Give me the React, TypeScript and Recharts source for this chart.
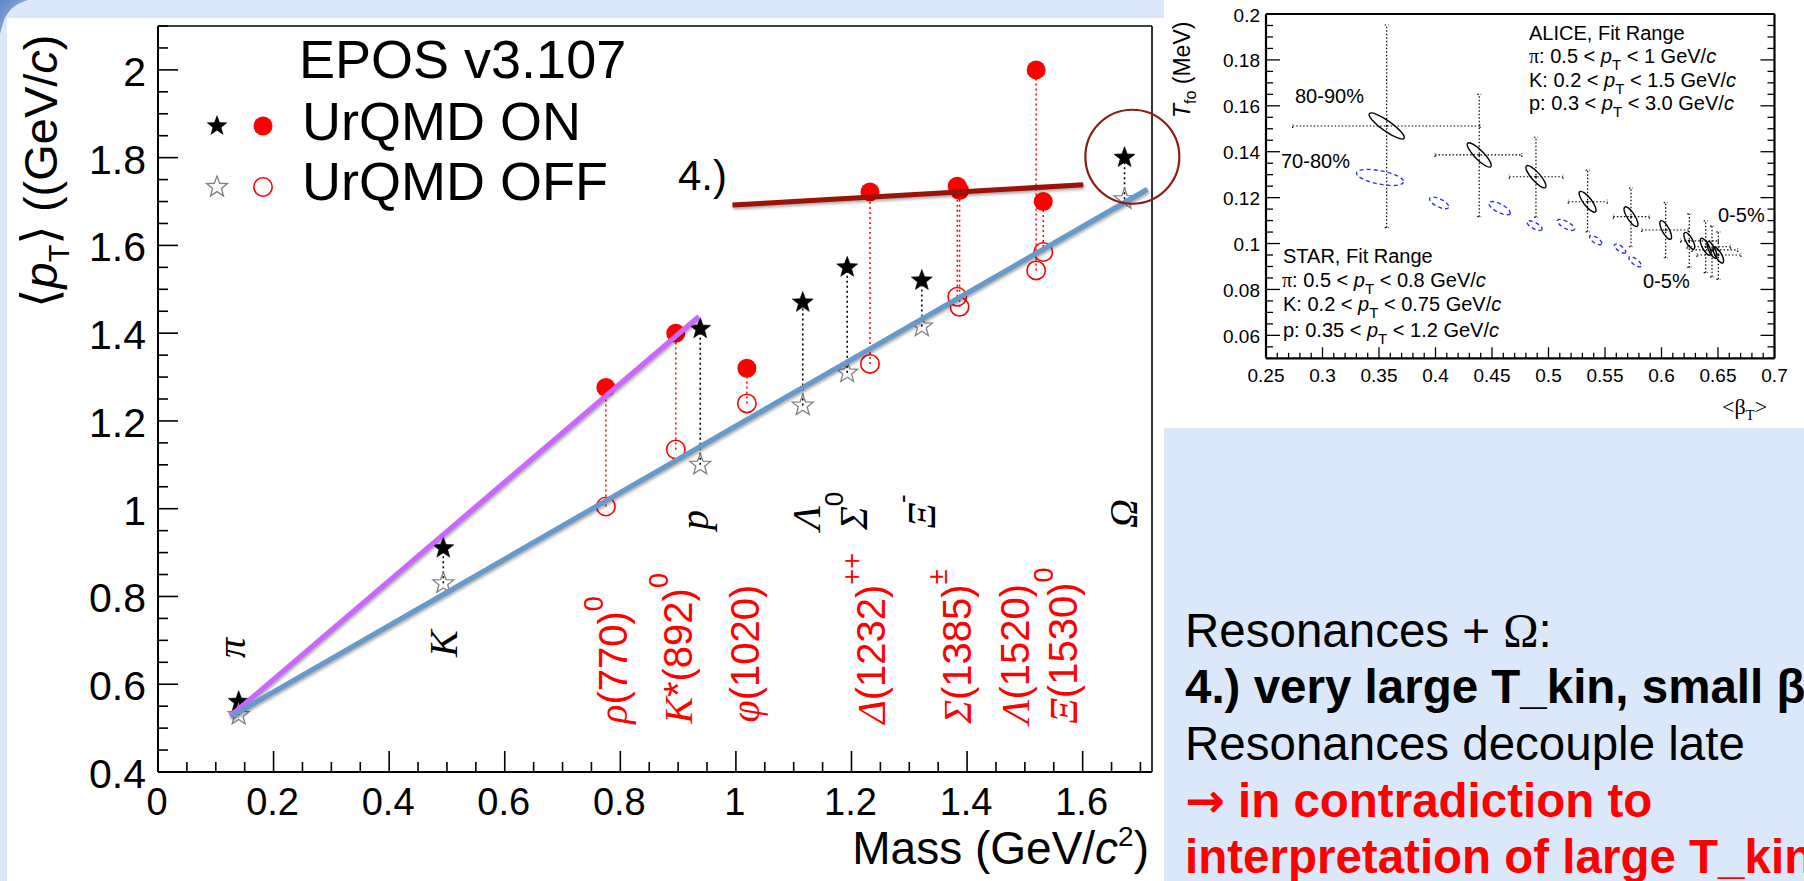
import React from 'react';
import { ScatterChart, Scatter, XAxis, YAxis, ErrorBar, ReferenceDot } from 'recharts';

const SANS = "'Liberation Sans', Arial, Helvetica, sans-serif";
const SERIF = "'Liberation Serif', 'Times New Roman', serif";

// ================= main chart data =================
const hadronNames = ['π', 'K', 'p', 'Λ', 'Σ0', 'Ξ-', 'Ω'];
const hadronMass = [0.1396, 0.4937, 0.9383, 1.1157, 1.1926, 1.3217, 1.6725];
const hadronOn = [0.56, 0.91, 1.41, 1.47, 1.55, 1.52, 1.8];
const hadronOff = [0.53, 0.83, 1.1, 1.235, 1.31, 1.415, 1.705];

const resonanceNames = ['ρ(770)0', 'K*(892)0', 'φ(1020)', 'Δ(1232)++', 'Σ(1385)+', 'Σ(1385)-', 'Λ(1520)', 'Ξ(1530)0'];
const resonanceMass = [0.775, 0.896, 1.019, 1.232, 1.383, 1.387, 1.5195, 1.5318];
const resonanceOn = [1.276, 1.4, 1.32, 1.722, 1.735, 1.725, 2.0, 1.7];
const resonanceOff = [1.005, 1.135, 1.24, 1.33, 1.483, 1.46, 1.543, 1.585];

// straight-line fits drawn on the slide
const mesonFitX = [0.125, 0.936];
const mesonFitY = [0.527, 1.438];
const baryonFitX = [0.128, 1.712];
const baryonFitY = [0.528, 1.728];
const resonanceFitX = [0.994, 1.601];
const resonanceFitY = [1.692, 1.738];

const omegaHighlight = { x: 1.686, y: 1.802 };

// particle labels (rotated), anchored in data coordinates
const hadronLabelText = ['π', 'K', 'p', 'Λ', 'Σ', 'Ξ', 'Ω'];
const hadronLabelSup = ['', '', '', '', '0', '-', ''];
const hadronLabelX = [0.1356, 0.4946, 0.9426, 1.1227, 1.2048, 1.3225, 1.6716];
const hadronLabelY = [0.66, 0.662, 0.9516, 0.9516, 0.9516, 0.955, 0.956];

const resonanceLabelGreek = ['ρ', 'K', 'φ', 'Δ', 'Σ', 'Λ', 'Ξ'];
const resonanceLabelBody = ['(770)', '*(892)', '(1020)', '(1232)', '(1385)', '(1520)', '(1530)'];
const resonanceLabelSup = ['0', '0', '', '++', '±', '', '0'];
const resonanceLabelX = [0.7863, 0.8995, 1.0156, 1.2339, 1.3822, 1.483, 1.5647];
const resonanceLabelY = [0.51, 0.51, 0.513, 0.51, 0.51, 0.51, 0.51];

const mainXMajor = [0, 0.2, 0.4, 0.6, 0.8, 1.0, 1.2, 1.4, 1.6];
const mainXLabels = ['0', '0.2', '0.4', '0.6', '0.8', '1', '1.2', '1.4', '1.6'];
const mainYMajor = [0.4, 0.6, 0.8, 1.0, 1.2, 1.4, 1.6, 1.8, 2.0];
const mainYLabels = ['0.4', '0.6', '0.8', '1', '1.2', '1.4', '1.6', '1.8', '2'];

// ================= inset (T_fo vs <beta_T>) data =================
const aliceBeta = [0.3568, 0.4387, 0.4889, 0.5346, 0.573, 0.6037, 0.6246, 0.6391, 0.6447, 0.6503];
const aliceT = [0.1512, 0.1386, 0.1291, 0.1182, 0.1117, 0.1059, 0.1012, 0.0986, 0.0972, 0.095];
const aliceBetaLow = [0.2736, 0.3996, 0.4653, 0.5175, 0.5574, 0.5825, 0.617, 0.6226, 0.627, 0.6314];
const aliceBetaHigh = [0.4394, 0.4763, 0.5128, 0.552, 0.5892, 0.6237, 0.6503, 0.6611, 0.6674, 0.6703];
const aliceTLow = [0.1069, 0.1117, 0.1114, 0.1051, 0.0986, 0.0938, 0.0896, 0.0873, 0.0855, 0.0844];
const aliceTHigh = [0.1952, 0.165, 0.1463, 0.132, 0.1241, 0.1178, 0.1129, 0.1099, 0.1076, 0.1051];
// contour major half-axis (in data units) and minor/major ratio
const aliceAxisBeta = [0.01535, 0.0102, 0.0084, 0.0069, 0.0055, 0.0044, 0.0041, 0.004, 0.0035, 0.004];
const aliceAxisT = [-0.00538, -0.0051, -0.0047, -0.0044, -0.0042, -0.004, -0.0036, -0.0036, -0.0036, -0.0034];
const aliceAxisRatio = [0.24, 0.28, 0.3, 0.32, 0.33, 0.34, 0.35, 0.35, 0.35, 0.35];

const starBeta = [0.3509, 0.4032, 0.4567, 0.4877, 0.5155, 0.5417, 0.5633, 0.5766];
const starT = [0.1288, 0.1177, 0.1154, 0.1078, 0.1081, 0.1015, 0.0978, 0.0921];
const starAxisBeta = [0.0208, 0.0084, 0.0093, 0.0066, 0.0075, 0.0053, 0.0049, 0.0053];
const starAxisT = [-0.002, -0.002, -0.0024, -0.0017, -0.002, -0.0017, -0.0017, -0.002];
const starAxisRatio = [0.28, 0.38, 0.36, 0.38, 0.36, 0.4, 0.4, 0.38];

const insetXMajor = [0.25, 0.3, 0.35, 0.4, 0.45, 0.5, 0.55, 0.6, 0.65, 0.7];
const insetXLabels = ['0.25', '0.3', '0.35', '0.4', '0.45', '0.5', '0.55', '0.6', '0.65', '0.7'];
const insetYMajor = [0.06, 0.08, 0.1, 0.12, 0.14, 0.16, 0.18, 0.2];
const insetYLabels = ['0.06', '0.08', '0.1', '0.12', '0.14', '0.16', '0.18', '0.2'];

// ================= helpers =================
const near = (a: number, b: number) => Math.abs(a - b) < 1e-6;
const makeTicks = (start: number, end: number, step: number) => {
  const out: number[] = [];
  const n = Math.round((end - start) / step);
  for (let i = 0; i <= n; i++) out.push(+(start + i * step).toFixed(4));
  return out;
};
const mainXTicks = makeTicks(0, 1.7, 0.05);
const mainYTicks = makeTicks(0.4, 2.1, 0.05);
const insetXTicks = makeTicks(0.25, 0.7, 0.01);
const insetYTicks = makeTicks(0.05, 0.2, 0.005);

const hadronOnData = hadronMass.map((x, i) => ({ name: hadronNames[i], x, y: hadronOn[i], err: [hadronOn[i] - hadronOff[i], 0] }));
const hadronOffData = hadronMass.map((x, i) => ({ name: hadronNames[i], x, y: hadronOff[i] }));
const resOnData = resonanceMass.map((x, i) => ({ name: resonanceNames[i], x, y: resonanceOn[i], err: [resonanceOn[i] - resonanceOff[i], 0] }));
const resOffData = resonanceMass.map((x, i) => ({ name: resonanceNames[i], x, y: resonanceOff[i] }));
const mesonFit = mesonFitX.map((x, i) => ({ x, y: mesonFitY[i] }));
const baryonFit = baryonFitX.map((x, i) => ({ x, y: baryonFitY[i] }));
const resonanceFit = resonanceFitX.map((x, i) => ({ x, y: resonanceFitY[i] }));
const hadronLabels = hadronLabelText.map((t, i) => ({ x: hadronLabelX[i], y: hadronLabelY[i], t, sup: hadronLabelSup[i] }));
const resonanceLabels = resonanceLabelGreek.map((g, i) => ({ x: resonanceLabelX[i], y: resonanceLabelY[i], g, body: resonanceLabelBody[i], sup: resonanceLabelSup[i] }));

const aliceData = aliceBeta.map((x, i) => ({
  x, y: aliceT[i],
  ex: [x - aliceBetaLow[i], aliceBetaHigh[i] - x],
  ey: [aliceT[i] - aliceTLow[i], aliceTHigh[i] - aliceT[i]],
  da: aliceAxisBeta[i], dt: aliceAxisT[i], ratio: aliceAxisRatio[i],
}));
const starData = starBeta.map((x, i) => ({ x, y: starT[i], da: starAxisBeta[i], dt: starAxisT[i], ratio: starAxisRatio[i] }));

// ================= geometry =================
const MAIN_W = 1200, MAIN_H = 881;
// axes have a 1px band, so the plot area is x 158..1152, y 26..772
const MAIN_M = { top: 25, right: 47, bottom: 108, left: 157 };
const INSET_LEFT = 1164, INSET_W = 640, INSET_H = 428;
const INSET_M = { top: 13, right: 28.5, bottom: 68.7, left: 101 };
const INSET_PW = INSET_W - INSET_M.left - INSET_M.right - 2;
const INSET_PH = INSET_H - INSET_M.top - INSET_M.bottom - 2;
const KX = INSET_PW / 0.45;
const KY = INSET_PH / 0.15;

// ================= shapes =================
const starPoints = (cx: number, cy: number, r: number) => {
  const pts: string[] = [];
  for (let i = 0; i < 10; i++) {
    const rad = i % 2 === 0 ? r : r * 0.42;
    const a = -Math.PI / 2 + (i * Math.PI) / 5;
    pts.push(`${(cx + rad * Math.cos(a)).toFixed(2)},${(cy + rad * Math.sin(a)).toFixed(2)}`);
  }
  return pts.join(' ');
};
const FilledStar = ({ cx, cy }: any) => <polygon points={starPoints(cx, cy, 11)} fill="#000" stroke="#000" strokeWidth={0.6} />;
const OpenStar = ({ cx, cy }: any) => <polygon points={starPoints(cx, cy, 11)} fill="none" stroke="#808080" strokeWidth={1.3} />;
const FilledDot = ({ cx, cy }: any) => <circle cx={cx} cy={cy} r={9.5} fill="#ff0000" />;
const OpenDot = ({ cx, cy }: any) => <circle cx={cx} cy={cy} r={9.2} fill="none" stroke="#ff0000" strokeWidth={1.6} />;
const NoShape = () => <g />;

const HadronLabel = ({ cx, cy, payload }: any) => {
  const fs = 40;
  const off = payload.t === 'p' ? 0.12 * fs : payload.t === 'π' ? 0.22 * fs : 0.33 * fs;
  const bx = cx + off;
  return (
    <text transform={`rotate(-90 ${bx} ${cy})`} x={bx} y={cy} fontFamily={SERIF} fontStyle="italic" fontSize={fs} fill="#000">
      {payload.t}
      {payload.sup ? <tspan fontFamily={SANS} fontStyle="normal" fontSize={26} dy={-24}>{payload.sup}</tspan> : null}
    </text>
  );
};

const ResonanceLabel = ({ cx, cy, payload }: any) => {
  const fs = 40;
  const bx = cx + 0.358 * fs;
  return (
    <text transform={`rotate(-90 ${bx} ${cy})`} x={bx} y={cy} fontFamily={SANS} fontSize={fs} fill="#ff0000">
      <tspan fontFamily={SERIF} fontStyle="italic">{payload.g}</tspan>
      <tspan>{payload.body}</tspan>
      {payload.sup ? <tspan fontSize={27} dy={-24}>{payload.sup}</tspan> : null}
    </text>
  );
};

const makeEllipse = (stroke: string, dash?: string, dot?: boolean) => (props: any) => {
  const { cx, cy, payload } = props;
  const vx = payload.da * KX;
  const vy = -payload.dt * KY;
  const a = Math.hypot(vx, vy);
  const ang = (Math.atan2(vy, vx) * 180) / Math.PI;
  const b = a * payload.ratio;
  return (
    <g>
      <ellipse cx={cx} cy={cy} rx={a} ry={b} transform={`rotate(${ang} ${cx} ${cy})`} fill="none" stroke={stroke} strokeWidth={1.4} strokeDasharray={dash} />
      {dot ? <circle cx={cx} cy={cy} r={1} fill="#000" /> : null}
    </g>
  );
};
const AliceEllipse = makeEllipse('#000', undefined, true);
const StarEllipse = makeEllipse('#2b35e6', '4 3');

// ================= ticks =================
const MainXTick = (props: any) => {
  const { x, y, payload } = props;
  const idx = mainXMajor.findIndex((v) => near(v, payload.value));
  const major = idx >= 0;
  return (
    <g>
      <line x1={x} y1={y} x2={x} y2={y - (major ? 21 : 10)} stroke="#000" strokeWidth={1.6} />
      {major ? (
        <text x={x - 1} y={y + 43} textAnchor="middle" fontFamily={SANS} fontSize={38} fill="#000">{mainXLabels[idx]}</text>
      ) : null}
    </g>
  );
};
const MainYTick = (props: any) => {
  const { x, y, payload } = props;
  const idx = mainYMajor.findIndex((v) => near(v, payload.value));
  const major = idx >= 0;
  return (
    <g>
      <line x1={x} y1={y} x2={x + (major ? 20 : 10)} y2={y} stroke="#000" strokeWidth={1.6} />
      {major ? (
        <text x={x - 12} y={y + 16} textAnchor="end" fontFamily={SANS} fontSize={41} fill="#000">{mainYLabels[idx]}</text>
      ) : null}
    </g>
  );
};
const InsetBottomTick = (props: any) => {
  const { x, y, payload } = props;
  const idx = insetXMajor.findIndex((v) => near(v, payload.value));
  const major = idx >= 0;
  return (
    <g>
      <line x1={x} y1={y} x2={x} y2={y - (major ? 11 : 5.5)} stroke="#000" strokeWidth={1.3} />
      {major ? (
        <text x={x} y={y + 23.5} textAnchor="middle" fontFamily={SANS} fontSize={19} fill="#000">{insetXLabels[idx]}</text>
      ) : null}
    </g>
  );
};
const InsetTopTick = (props: any) => {
  const { x, y, payload } = props;
  const major = insetXMajor.some((v) => near(v, payload.value));
  return <line x1={x} y1={y} x2={x} y2={y + (major ? 11 : 5.5)} stroke="#000" strokeWidth={1.3} />;
};
const InsetLeftTick = (props: any) => {
  const { x, y, payload } = props;
  const idx = insetYMajor.findIndex((v) => near(v, payload.value));
  const major = idx >= 0;
  return (
    <g>
      <line x1={x} y1={y} x2={x + (major ? 14 : 7)} y2={y} stroke="#000" strokeWidth={1.3} />
      {major ? (
        <text x={x - 6} y={y + 7.5} textAnchor="end" fontFamily={SANS} fontSize={19} fill="#000">{insetYLabels[idx]}</text>
      ) : null}
    </g>
  );
};
const InsetRightTick = (props: any) => {
  const { x, y, payload } = props;
  const major = insetYMajor.some((v) => near(v, payload.value));
  return <line x1={x} y1={y} x2={x - (major ? 14 : 7)} y2={y} stroke="#000" strokeWidth={1.3} />;
};

// ================= text helpers =================
const PT = ({ sub = 15, dy = 7 }: { sub?: number; dy?: number }) => (
  <>
    <tspan fontStyle="italic">p</tspan>
    <tspan fontSize={sub} dy={dy}>T</tspan>
    <tspan dy={-dy}> </tspan>
  </>
);

const MainChart = () => (
  <div style={{ position: 'absolute', left: 0, top: 0, width: MAIN_W, height: MAIN_H }}>
    <ScatterChart width={MAIN_W} height={MAIN_H} margin={MAIN_M}>
      <XAxis type="number" dataKey="x" domain={[0, 1.72]} ticks={mainXTicks} interval={0} allowDataOverflow
        height={1} tickSize={0} tickMargin={0} tickLine={false} axisLine={{ stroke: '#000', strokeWidth: 2 }} tick={<MainXTick />} />
      <XAxis xAxisId="top" orientation="top" type="number" domain={[0, 1.72]} allowDataOverflow
        height={1} tick={false} tickLine={false} axisLine={{ stroke: '#000', strokeWidth: 1.6 }} />
      <YAxis type="number" dataKey="y" domain={[0.4, 2.1]} ticks={mainYTicks} interval={0} allowDataOverflow
        width={1} tickSize={0} tickMargin={0} tickLine={false} axisLine={{ stroke: '#000', strokeWidth: 2 }} tick={<MainYTick />} />
      <YAxis yAxisId="right" orientation="right" type="number" domain={[0.4, 2.1]} allowDataOverflow
        width={1} tick={false} tickLine={false} axisLine={{ stroke: '#000', strokeWidth: 1.6 }} />

      <Scatter data={resOnData} shape={FilledDot} isAnimationActive={false}>
        <ErrorBar dataKey="err" direction="y" width={0} stroke="#ff0000" strokeWidth={1.5} strokeDasharray="2 3" />
      </Scatter>
      <Scatter data={resOffData} shape={OpenDot} isAnimationActive={false} />
      <Scatter data={hadronOnData} shape={FilledStar} isAnimationActive={false}>
        <ErrorBar dataKey="err" direction="y" width={0} stroke="#000" strokeWidth={1.6} strokeDasharray="2 3" />
      </Scatter>
      <Scatter data={hadronOffData} shape={OpenStar} isAnimationActive={false} />

      <Scatter data={mesonFit} shape={NoShape} isAnimationActive={false}
        line={{ stroke: '#cc66ff', strokeWidth: 5, style: { filter: 'drop-shadow(1px 2px 1.5px rgba(0,0,0,0.35))' } }} />
      <Scatter data={baryonFit} shape={NoShape} isAnimationActive={false}
        line={{ stroke: '#6699cc', strokeWidth: 5, style: { filter: 'drop-shadow(1px 2px 1.5px rgba(0,0,0,0.35))' } }} />
      <Scatter data={resonanceFit} shape={NoShape} isAnimationActive={false}
        line={{ stroke: '#9a1306', strokeWidth: 5, style: { filter: 'drop-shadow(1px 2px 1.5px rgba(0,0,0,0.35))' } }} />

      <Scatter data={hadronLabels} shape={HadronLabel} isAnimationActive={false} />
      <Scatter data={resonanceLabels} shape={ResonanceLabel} isAnimationActive={false} />

      <ReferenceDot x={omegaHighlight.x} y={omegaHighlight.y} r={47} fill="none" stroke="#8c1c13" strokeWidth={2.2} ifOverflow="visible" />
    </ScatterChart>
  </div>
);

const InsetChart = () => (
  <div style={{ position: 'absolute', left: INSET_LEFT, top: 0, width: INSET_W, height: INSET_H }}>
    <ScatterChart width={INSET_W} height={INSET_H} margin={INSET_M}>
      <XAxis type="number" dataKey="x" domain={[0.25, 0.7]} ticks={insetXTicks} interval={0} allowDataOverflow
        height={1} tickSize={0} tickMargin={0} tickLine={false} axisLine={{ stroke: '#000', strokeWidth: 2.2 }} tick={<InsetBottomTick />} />
      <XAxis xAxisId="top" orientation="top" type="number" domain={[0.25, 0.7]} ticks={insetXTicks} interval={0} allowDataOverflow
        height={1} tickSize={0} tickMargin={0} tickLine={false} axisLine={{ stroke: '#000', strokeWidth: 2.2 }} tick={<InsetTopTick />} />
      <YAxis type="number" dataKey="y" domain={[0.05, 0.2]} ticks={insetYTicks} interval={0} allowDataOverflow
        width={1} tickSize={0} tickMargin={0} tickLine={false} axisLine={{ stroke: '#000', strokeWidth: 2.2 }} tick={<InsetLeftTick />} />
      <YAxis yAxisId="right" orientation="right" type="number" domain={[0.05, 0.2]} ticks={insetYTicks} interval={0} allowDataOverflow
        width={1} tickSize={0} tickMargin={0} tickLine={false} axisLine={{ stroke: '#000', strokeWidth: 2.2 }} tick={<InsetRightTick />} />

      <Scatter data={starData} shape={StarEllipse} isAnimationActive={false} />
      <Scatter data={aliceData} shape={AliceEllipse} isAnimationActive={false}>
        <ErrorBar dataKey="ex" direction="x" width={2} stroke="#000" strokeWidth={1.2} strokeDasharray="1.5 2" />
        <ErrorBar dataKey="ey" direction="y" width={2} stroke="#000" strokeWidth={1.2} strokeDasharray="1.5 2" />
      </Scatter>
    </ScatterChart>
  </div>
);

const Overlay = () => (
  <svg width={1804} height={881} style={{ position: 'absolute', left: 0, top: 0, pointerEvents: 'none', overflow: 'hidden' }}>
    {/* main chart axis titles */}
    <text transform="rotate(-90)" x={-308} y={57} fontFamily={SANS} fontSize={47} fill="#000">
      <tspan fontFamily="'DejaVu Sans', sans-serif" fontSize={50}>⟨</tspan>
      <tspan fontStyle="italic">p</tspan>
      <tspan fontSize={29} dy={12}>T</tspan>
      <tspan fontFamily="'DejaVu Sans', sans-serif" fontSize={50} dy={-12}>⟩</tspan>
      <tspan> ((GeV/</tspan>
      <tspan fontStyle="italic">c</tspan>
      <tspan>)</tspan>
    </text>
    <text x={1149} y={864} textAnchor="end" fontFamily={SANS} fontSize={46} fill="#000">
      Mass (GeV/<tspan fontStyle="italic">c</tspan><tspan fontSize={28} dy={-18}>2</tspan><tspan dy={18}>)</tspan>
    </text>

    {/* legend */}
    <text x={299} y={78} fontFamily={SANS} fontSize={54} fill="#000">EPOS v3.107</text>
    <polygon points={starPoints(217, 126, 11)} fill="#000" />
    <circle cx={263} cy={126} r={9.5} fill="#ff0000" />
    <text x={302} y={140} fontFamily={SANS} fontSize={54} fill="#000">UrQMD ON</text>
    <polygon points={starPoints(217, 187, 11)} fill="none" stroke="#808080" strokeWidth={1.3} />
    <circle cx={263} cy={187} r={9.2} fill="none" stroke="#ff0000" strokeWidth={1.6} />
    <text x={302} y={200} fontFamily={SANS} fontSize={54} fill="#000">UrQMD OFF</text>

    <text x={678} y={190} fontFamily={SANS} fontSize={42} fill="#000">4.)</text>

    {/* inset titles */}
    <text transform="rotate(-90)" x={-118} y={1190} fontFamily={SANS} fontSize={23} fill="#000">
      <tspan fontStyle="italic">T</tspan>
      <tspan fontSize={16} dy={6}>fo</tspan>
      <tspan dy={-6}> (MeV)</tspan>
    </text>
    <text x={1722} y={414} fontFamily={SERIF} fontSize={22} fill="#000">
      {'<β'}<tspan fontSize={15} dy={6}>T</tspan><tspan dy={-6}>{'>'}</tspan>
    </text>

    <g fontFamily={SANS} fontSize={20} fill="#000">
      <text x={1529} y={40}>ALICE, Fit Range</text>
      <text x={1529} y={63}><tspan fontFamily={SERIF}>π</tspan>: 0.5 &lt; <PT /> &lt; 1 GeV/<tspan fontStyle="italic">c</tspan></text>
      <text x={1529} y={87}>K: 0.2 &lt; <PT /> &lt; 1.5 GeV/<tspan fontStyle="italic">c</tspan></text>
      <text x={1529} y={110}>p: 0.3 &lt; <PT /> &lt; 3.0 GeV/<tspan fontStyle="italic">c</tspan></text>

      <text x={1283} y={263}>STAR, Fit Range</text>
      <text x={1282} y={287}><tspan fontFamily={SERIF}>π</tspan>: 0.5 &lt; <PT /> &lt; 0.8 GeV/<tspan fontStyle="italic">c</tspan></text>
      <text x={1283} y={311}>K: 0.2 &lt; <PT /> &lt; 0.75 GeV/<tspan fontStyle="italic">c</tspan></text>
      <text x={1283} y={337}>p: 0.35 &lt; <PT /> &lt; 1.2 GeV/<tspan fontStyle="italic">c</tspan></text>

      <text x={1295} y={103}>80-90%</text>
      <text x={1281} y={168}>70-80%</text>
      <text x={1718} y={222}>0-5%</text>
      <text x={1643} y={288}>0-5%</text>
    </g>

    {/* text box */}
    <g fontFamily={SANS} fontSize={47.5}>
      <text x={1185} y={647} fill="#000">Resonances + <tspan fontFamily={SERIF}>Ω</tspan>:</text>
      <text x={1185} y={703} fill="#000" fontWeight="bold">4.) very large T_kin, small β</text>
      <text x={1185} y={760} fill="#000">Resonances decouple late</text>
      <text x={1185} y={817} fill="#ff0000" fontWeight="bold"><tspan fontFamily="'DejaVu Sans', sans-serif">→</tspan> in contradiction to</text>
      <text x={1185} y={873} fill="#ff0000" fontWeight="bold">interpretation of large T_kin</text>
    </g>
  </svg>
);

export default function App() {
  return (
    <div style={{ position: 'absolute', left: 0, top: 0, width: 1804, height: 881, overflow: 'hidden', background: '#dbe8f9' }}>
      <svg width={1804} height={881} style={{ position: 'absolute', left: 0, top: 0 }}>
        <defs>
          <linearGradient id="corner" x1="0" y1="0" x2="1" y2="1">
            <stop offset="0" stopColor="#5f86c4" />
            <stop offset="1" stopColor="#a9c3e8" />
          </linearGradient>
        </defs>
        <path d="M0,0 L28,0 Q10,5 4,20 L0,34 Z" fill="url(#corner)" />
        <rect x={7} y={18} width={1157} height={863} fill="#ffffff" />
        <rect x={1164} y={0} width={640} height={428} fill="#ffffff" />
      </svg>
      <MainChart />
      <InsetChart />
      <Overlay />
    </div>
  );
}
